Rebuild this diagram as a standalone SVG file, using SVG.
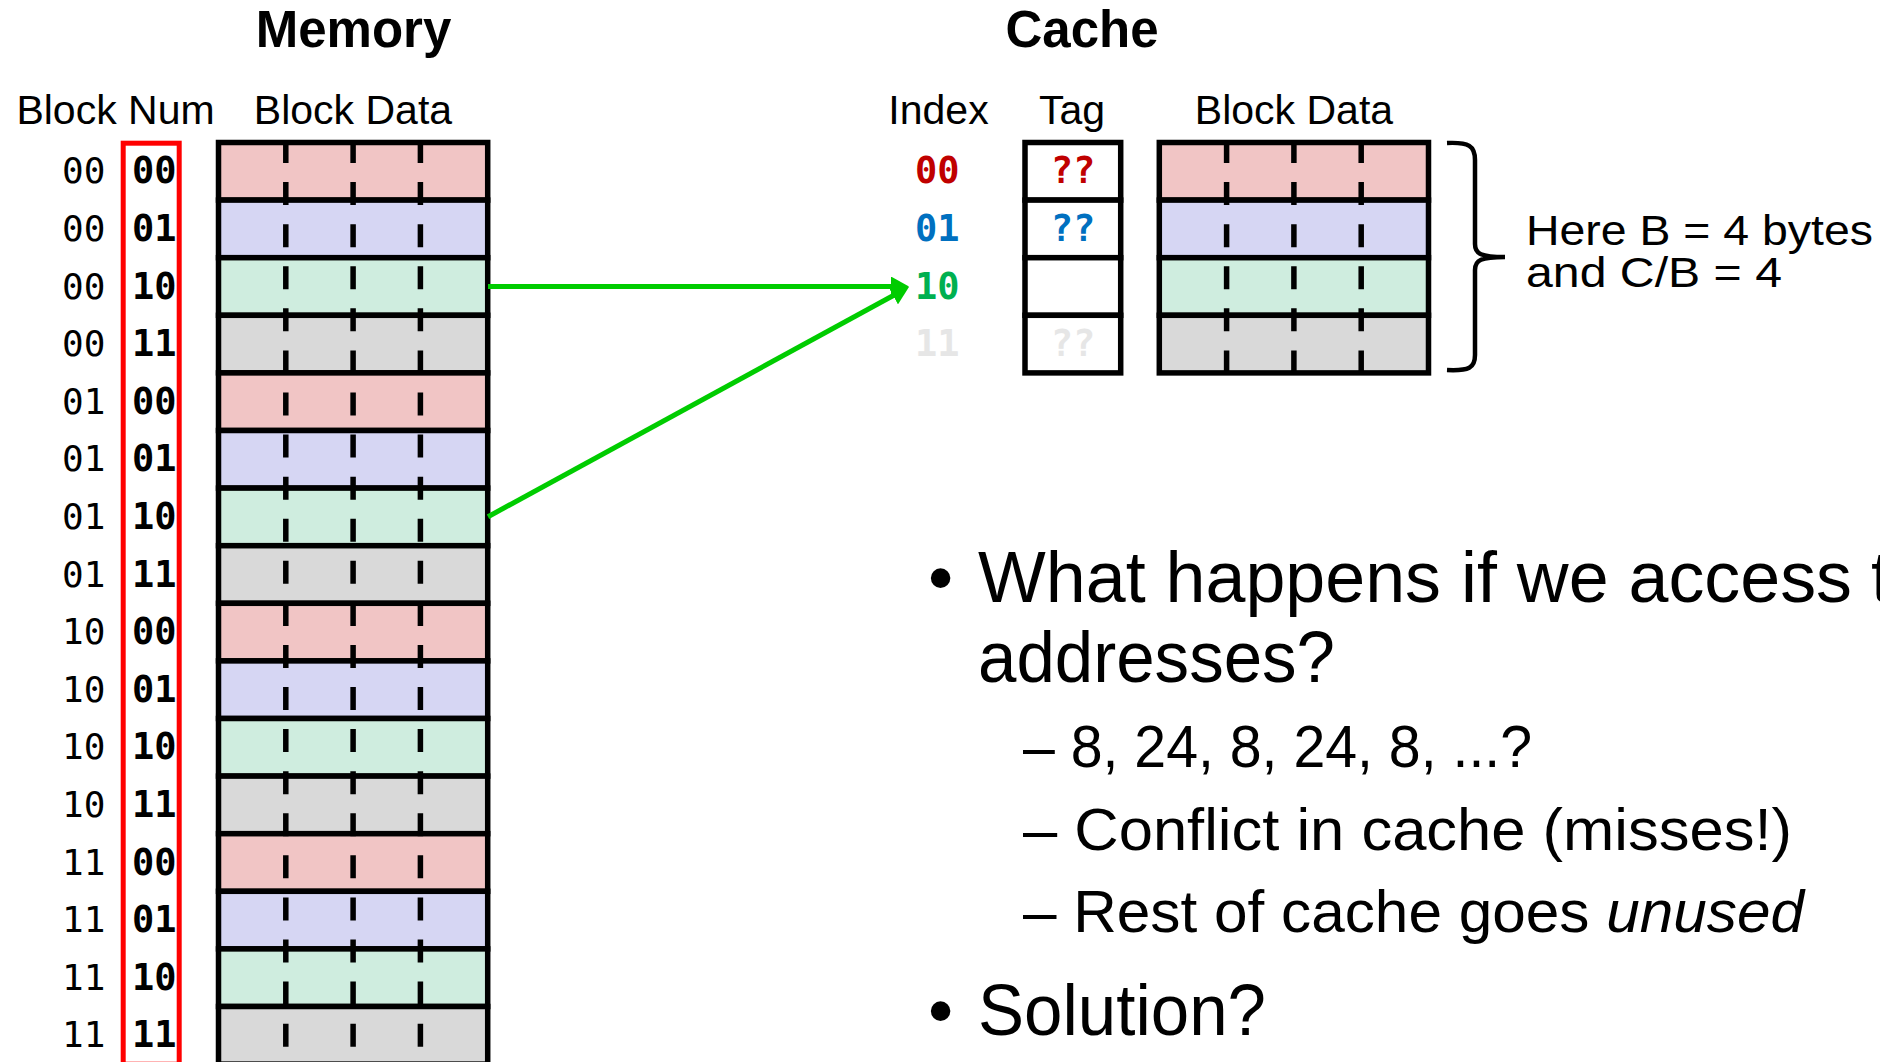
<svg xmlns="http://www.w3.org/2000/svg" width="1880" height="1062" viewBox="0 0 1880 1062">
<style>
.sans{font-family:"Liberation Sans",Arial,sans-serif;fill:#000}
.title{font-family:"Liberation Sans",Arial,sans-serif;font-weight:bold;font-size:51px;text-anchor:middle}
.hdr{font-family:"Liberation Sans",Arial,sans-serif;font-size:41px;text-anchor:middle}
.mono{font-family:"DejaVu Sans Mono","Liberation Mono",monospace;font-size:36px}
.monob{font-family:"DejaVu Sans Mono","Liberation Mono",monospace;font-size:37px;font-weight:bold}
.cell{stroke:#000;stroke-width:5.5}
.pk{fill:#F1C5C5}.lv{fill:#D6D6F3}.mt{fill:#CFEDDF}.gy{fill:#D9D9D9}
.dash{stroke:#000;stroke-width:5.5;stroke-dasharray:23 19.08;fill:none}
.conn{stroke:#00CC00;stroke-width:5;fill:none;marker-end:url(#ah)}
.main{font-family:"Liberation Sans",Arial,sans-serif;font-size:72px}
.sub{font-family:"Liberation Sans",Arial,sans-serif;font-size:60px}
</style>
<defs>
<marker id="ah" markerUnits="userSpaceOnUse" markerWidth="18" markerHeight="20" viewBox="0 0 18 20" refX="8" refY="10" orient="auto">
<path d="M0,0 L18,10 L0,20 z" fill="#00CC00"/>
</marker>
</defs>
<rect width="1880" height="1062" fill="#fff"/>

<g id="memory">
<text class="title" x="353.5" y="47">Memory</text>
<text class="hdr" x="115.5" y="124">Block Num</text>
<text class="hdr" x="353" y="124">Block Data</text>
<g id="memory-rows">
<rect class="cell pk" x="218.5" y="142.5" width="269.2" height="57.6"/>
<rect class="cell lv" x="218.5" y="200.1" width="269.2" height="57.6"/>
<rect class="cell mt" x="218.5" y="257.7" width="269.2" height="57.6"/>
<rect class="cell gy" x="218.5" y="315.3" width="269.2" height="57.6"/>
<rect class="cell pk" x="218.5" y="372.9" width="269.2" height="57.6"/>
<rect class="cell lv" x="218.5" y="430.5" width="269.2" height="57.6"/>
<rect class="cell mt" x="218.5" y="488.1" width="269.2" height="57.6"/>
<rect class="cell gy" x="218.5" y="545.7" width="269.2" height="57.6"/>
<rect class="cell pk" x="218.5" y="603.3" width="269.2" height="57.6"/>
<rect class="cell lv" x="218.5" y="660.9" width="269.2" height="57.6"/>
<rect class="cell mt" x="218.5" y="718.5" width="269.2" height="57.6"/>
<rect class="cell gy" x="218.5" y="776.1" width="269.2" height="57.6"/>
<rect class="cell pk" x="218.5" y="833.7" width="269.2" height="57.6"/>
<rect class="cell lv" x="218.5" y="891.3" width="269.2" height="57.6"/>
<rect class="cell mt" x="218.5" y="948.9" width="269.2" height="57.6"/>
<rect class="cell gy" x="218.5" y="1006.5" width="269.2" height="57.6"/>
<line class="dash" x1="285.8" y1="140" x2="285.8" y2="1064"/>
<line class="dash" x1="353.1" y1="140" x2="353.1" y2="1064"/>
<line class="dash" x1="420.4" y1="140" x2="420.4" y2="1064"/>
</g>
<g id="block-nums">
<text class="mono" x="62" y="183.3">00</text><text class="monob" x="132" y="183.3">00</text>
<text class="mono" x="62" y="240.9">00</text><text class="monob" x="132" y="240.9">01</text>
<text class="mono" x="62" y="298.5">00</text><text class="monob" x="132" y="298.5">10</text>
<text class="mono" x="62" y="356.1">00</text><text class="monob" x="132" y="356.1">11</text>
<text class="mono" x="62" y="413.7">01</text><text class="monob" x="132" y="413.7">00</text>
<text class="mono" x="62" y="471.3">01</text><text class="monob" x="132" y="471.3">01</text>
<text class="mono" x="62" y="528.9">01</text><text class="monob" x="132" y="528.9">10</text>
<text class="mono" x="62" y="586.5">01</text><text class="monob" x="132" y="586.5">11</text>
<text class="mono" x="62" y="644.1">10</text><text class="monob" x="132" y="644.1">00</text>
<text class="mono" x="62" y="701.7">10</text><text class="monob" x="132" y="701.7">01</text>
<text class="mono" x="62" y="759.3">10</text><text class="monob" x="132" y="759.3">10</text>
<text class="mono" x="62" y="816.9">10</text><text class="monob" x="132" y="816.9">11</text>
<text class="mono" x="62" y="874.5">11</text><text class="monob" x="132" y="874.5">00</text>
<text class="mono" x="62" y="932.1">11</text><text class="monob" x="132" y="932.1">01</text>
<text class="mono" x="62" y="989.7">11</text><text class="monob" x="132" y="989.7">10</text>
<text class="mono" x="62" y="1047.3">11</text><text class="monob" x="132" y="1047.3">11</text>
<rect x="123.2" y="143.2" width="56" height="921" fill="none" stroke="#FF0000" stroke-width="5"/>
</g>
</g>

<g id="cache">
<text class="title" x="1082" y="47">Cache</text>
<text class="hdr" x="938.5" y="124">Index</text>
<text class="hdr" x="1072" y="124">Tag</text>
<text class="hdr" x="1294" y="124">Block Data</text>
<g id="cache-index">
<text class="monob" x="915" y="183.3" fill="#C00000">00</text>
<text class="monob" x="915" y="240.9" fill="#0070C0">01</text>
<text class="monob" x="915" y="298.5" fill="#00B050">10</text>
<text class="monob" x="915" y="356.1" fill="#E6E6E6">11</text>
</g>
<g id="cache-tag">
<rect x="1025" y="142.5" width="95.7" height="57.6" fill="#fff" class="cell"/>
<rect x="1025" y="200.1" width="95.7" height="57.6" fill="#fff" class="cell"/>
<rect x="1025" y="257.7" width="95.7" height="57.6" fill="#fff" class="cell"/>
<rect x="1025" y="315.3" width="95.7" height="57.6" fill="#fff" class="cell"/>
<text class="monob" x="1073" y="183.3" text-anchor="middle" fill="#C00000">??</text>
<text class="monob" x="1073" y="240.9" text-anchor="middle" fill="#0070C0">??</text>
<text class="monob" x="1073" y="356.1" text-anchor="middle" fill="#E6E6E6">??</text>
</g>
<g id="cache-data">
<rect class="cell pk" x="1159.3" y="142.5" width="269.2" height="57.6"/>
<rect class="cell lv" x="1159.3" y="200.1" width="269.2" height="57.6"/>
<rect class="cell mt" x="1159.3" y="257.7" width="269.2" height="57.6"/>
<rect class="cell gy" x="1159.3" y="315.3" width="269.2" height="57.6"/>
<line class="dash" x1="1226.6" y1="140" x2="1226.6" y2="372.9"/>
<line class="dash" x1="1293.9" y1="140" x2="1293.9" y2="372.9"/>
<line class="dash" x1="1361.2" y1="140" x2="1361.2" y2="372.9"/>
</g>
</g>

<g id="brace-note">
<path d="M1447,143 C1469,142 1475,146 1475,160 L1475,244 C1475,254 1481,257 1505,257 C1481,257 1475,260 1475,270 L1475,355 C1475,368 1469,371 1447,370" fill="none" stroke="#000" stroke-width="4.5"/>
<text class="sans" x="1526" y="245" font-size="43" textLength="347" lengthAdjust="spacingAndGlyphs">Here B = 4 bytes</text>
<text class="sans" x="1526" y="287" font-size="43" textLength="256" lengthAdjust="spacingAndGlyphs">and C/B = 4</text>
</g>

<g id="connectors">
<line class="conn" x1="488" y1="286.5" x2="899" y2="286.5"/>
<line class="conn" x1="488" y1="516.7" x2="900.2" y2="291.8"/>
</g>

<g id="bullets">
<text class="main" x="928" y="601.7">•</text>
<text class="main" x="978" y="601.7" textLength="874" lengthAdjust="spacingAndGlyphs">What happens if we access</text>
<text class="main" x="1871" y="601.7">t</text>
<text class="main" x="978" y="681.7" textLength="357" lengthAdjust="spacingAndGlyphs">addresses?</text>
<text class="sub" x="1023" y="766.7" textLength="509" lengthAdjust="spacingAndGlyphs">– 8, 24, 8, 24, 8, ...?</text>
<text class="sub" x="1023" y="850" textLength="769" lengthAdjust="spacingAndGlyphs">– Conflict in cache (misses!)</text>
<text class="sub" x="1023" y="931.7" textLength="781" lengthAdjust="spacingAndGlyphs">– Rest of cache goes <tspan font-style="italic">unused</tspan></text>
<text class="main" x="928" y="1035">•</text>
<text class="main" x="978" y="1035" textLength="288" lengthAdjust="spacingAndGlyphs">Solution?</text>
</g>
</svg>
